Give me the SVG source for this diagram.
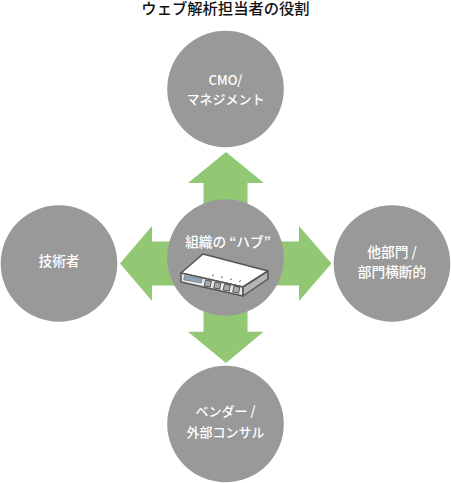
<svg xmlns="http://www.w3.org/2000/svg" width="451" height="483" viewBox="0 0 451 483">
<style>
.c{fill:#999}
.a{fill:#92c873}
text{font-family:"Noto Sans CJK JP","Noto Sans",sans-serif;font-size:13.7px;font-weight:500;fill:#fff;text-anchor:middle}
.k{font-size:13px}
.t{fill:#111;font-size:15.3px}
.d{stroke:#555;stroke-width:1.5;stroke-linejoin:round}
</style>
<rect width="451" height="483" fill="#fff"/>
<text class="t" x="225.5" y="14">ウェブ解析担当者の役割</text>
<g id="connectors">
<polygon class="a" points="226,152 264,183 247.5,183 247.5,331.7 263.5,331.7 226,363 188,331.7 203.5,331.7 203.5,183 188,183"/>
<polygon class="a" points="120,263.5 152,226 152,241.5 299,241.5 299,226 331.5,263.5 299,301 299,285.5 152,285.5 152,301"/>
</g>
<g id="node-top"><circle class="c" cx="225.5" cy="89" r="58.3"/><text class="k" x="225.5" y="85">CMO/</text><text class="k" x="225.5" y="104">マネジメント</text></g>
<g id="node-left"><circle class="c" cx="59" cy="263.5" r="58.3"/><text x="59" y="266">技術者</text></g>
<g id="node-right"><circle class="c" cx="392" cy="263.5" r="58.3"/><text x="392" y="257">他部門 /</text><text x="392" y="277">部門横断的</text></g>
<g id="node-bottom"><circle class="c" cx="225.5" cy="424" r="58.3"/><text class="k" x="225.5" y="416">ベンダー /</text><text class="k" x="225.5" y="437">外部コンサル</text></g>
<g id="node-hub"><circle class="c" cx="225.5" cy="257.5" r="58.3"/><text x="228" y="247">組織の “ハブ”</text>
<polygon class="d" fill="#fff" points="181,273 203,254 268,271 243,287"/>
<polygon class="d" fill="#ececec" points="181,273 243,287 243,296 181,282"/>
<polygon class="d" fill="#b5b5b5" points="243,287 268,271 268,279 243,296"/>
<rect x="184.500" y="275.500" width="18" height="4.500" fill="#8fa3b8" stroke="#777" stroke-width=".6" transform="rotate(10 184.500 275.500)"/>
<g fill="#aaa" stroke="#555" stroke-width="1"><rect x="205.500" y="280" width="6" height="6" transform="rotate(12 205.500 280)"/><rect x="215" y="282" width="6" height="6" transform="rotate(12 215 282)"/><rect x="224.500" y="284" width="6" height="6" transform="rotate(12 224.500 284)"/><rect x="234" y="286" width="6" height="6" transform="rotate(12 234 286)"/></g>
<g stroke="#666" stroke-width="1"><path d="M212 276l2-1.500M221 278l2-1.500M230 280l2-1.500M239 282l2-1.500"/></g>
</g>
</svg>
